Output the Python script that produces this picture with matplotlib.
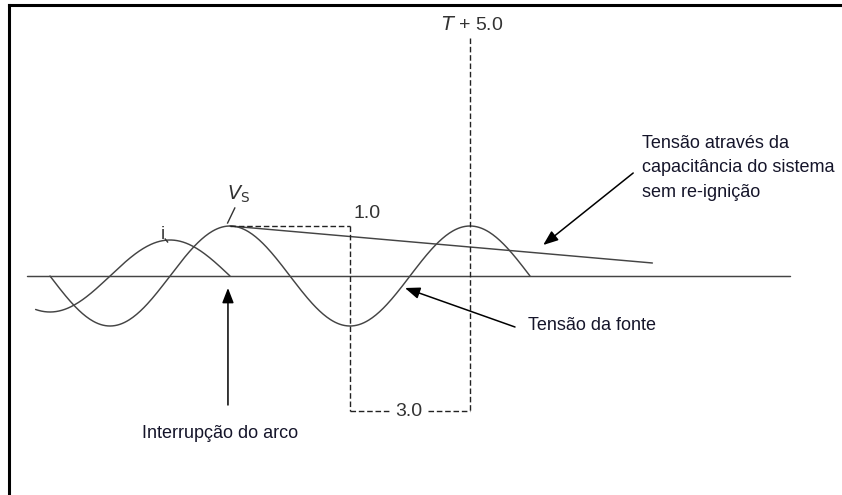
import numpy as np
import matplotlib

matplotlib.use("Agg")
import matplotlib.pyplot as plt
from matplotlib.lines import Line2D

# ── Waveform parameters (time in half-cycles, voltage in p.u.) ──────────────
SOURCE_AMP = 1.0          # source voltage peak
SOURCE_SPAN = [-1.5, 2.5]  # drawn range of source voltage
CURRENT_AMP = 0.72        # arc current peak
CURRENT_SPAN = [-1.62, 0.0]  # current drawn until interruption at t=0
DECAY_T = [0.0, 3.52]     # capacitor voltage without re-ignition
DECAY_V = [1.0, 0.26]
BASE_T = [-1.69, 4.67]

BOX_T = [1.0, 2.0]        # dashed markers: "1.0" and "T + 5.0"
BOX_BOTTOM = -2.7
MARK_TOP = 4.76

LABEL_1 = "1.0"
LABEL_3 = "3.0"
LABEL_T = "$T$ + 5.0"
TXT_SOURCE = "Tensão da fonte"
TXT_CAP = "Tensão através da\ncapacitância do sistema\nsem re-ignição"
TXT_ARC = "Interrupção do arco"

W, H = 842, 495
fig = plt.figure(figsize=(W / 100, H / 100), dpi=100)
ax = fig.add_axes([0, 0, 1, 1])
ax.set_xlim(-230 / 120, 612 / 120)
ax.set_ylim(-(H - 276) / 50, 276 / 50)
ax.axis("off")

curve = dict(color="#444444", lw=1.05, solid_capstyle="round")
dash = dict(color="#222222", lw=1.0, dashes=(4, 2))
narrow = ["Liberation Sans Narrow", "Liberation Sans", "DejaVu Sans"]
plain = ["Liberation Sans", "DejaVu Sans"]
txt_col = "#15152a"
num_col = "#333333"

# baseline
ax.plot(BASE_T, [0, 0], **curve)

# source voltage
t = np.linspace(SOURCE_SPAN[0], SOURCE_SPAN[1], 400)
ax.plot(t, SOURCE_AMP * np.cos(np.pi * t), **curve)

# current up to interruption
t = np.linspace(CURRENT_SPAN[0], CURRENT_SPAN[1], 200)
ax.plot(t, -CURRENT_AMP * np.sin(np.pi * t), **curve)

# trapped voltage decay
ax.plot(DECAY_T, DECAY_V, **curve)

# dashed markers
ax.plot([0, BOX_T[0]], [SOURCE_AMP, SOURCE_AMP], **dash)
ax.plot([BOX_T[0], BOX_T[0]], [SOURCE_AMP, BOX_BOTTOM], **dash)
ax.plot([BOX_T[1], BOX_T[1]], [MARK_TOP, BOX_BOTTOM], **dash)
ax.plot([BOX_T[0], 1.33], [BOX_BOTTOM, BOX_BOTTOM], **dash)
ax.plot([1.65, BOX_T[1]], [BOX_BOTTOM, BOX_BOTTOM], **dash)

ax.text(1.49, BOX_BOTTOM, LABEL_3, ha="center", va="center", fontsize=14,
        color=num_col, family=plain)
ax.text(1.03, 1.24, LABEL_1, ha="left", va="center", fontsize=14,
        color=num_col, family=plain)
ax.text(2.02, 5.02, LABEL_T, ha="center", va="center", fontsize=14,
        color=num_col, family=plain)

# V_S and i labels with leader ticks
ax.text(0.07, 1.63, r"$V_{\mathrm{S}}$", ha="center", va="center",
        fontsize=14, color=num_col)
ax.plot([0.04, -0.02], [1.36, 1.06], color=num_col, lw=1.0)
ax.text(-0.56, 0.83, "i", ha="center", va="center", fontsize=13,
        color=num_col, family=plain)
ax.plot([-0.54, -0.52], [0.74, 0.68], color=num_col, lw=1.0)

arrow = dict(arrowstyle="-|>,head_length=0.9,head_width=0.35", color="black",
             lw=1.1, shrinkA=0, shrinkB=0)

# arc interruption
ax.annotate("", xy=(-0.017, -0.24), xytext=(-0.017, -2.58), arrowprops=arrow)
ax.text(-0.08, -3.14, TXT_ARC, ha="center", va="center", fontsize=13,
        color=txt_col, family=narrow)

# source voltage
ax.annotate("", xy=(1.458, -0.24), xytext=(2.375, -1.02), arrowprops=arrow)
ax.text(2.48, -0.98, TXT_SOURCE, ha="left", va="center", fontsize=13,
        color=txt_col, family=narrow)

# capacitor voltage
ax.annotate("", xy=(2.61, 0.62), xytext=(3.36, 2.06), arrowprops=arrow)
ax.text(3.43, 2.16, TXT_CAP, ha="left", va="center", fontsize=13,
        color=txt_col, family=narrow, linespacing=1.6)

# frame: left and top edges only
fig.add_artist(Line2D([9 / W, 9 / W], [0, 1 - 5 / H], color="black", lw=2.2,
                      transform=fig.transFigure))
fig.add_artist(Line2D([9 / W, 1], [1 - 5 / H, 1 - 5 / H], color="black",
                      lw=2.2, transform=fig.transFigure))

fig.savefig("out.png", dpi=100, facecolor="white")
